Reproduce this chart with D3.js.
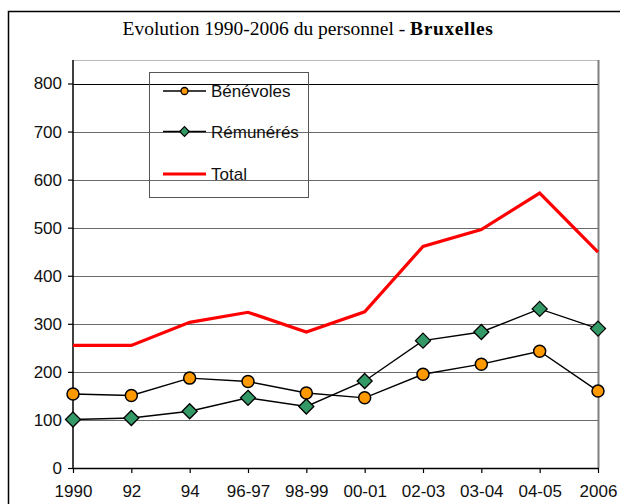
<!DOCTYPE html>
<html>
<head>
<meta charset="utf-8">
<script src="https://cdn.jsdelivr.net/npm/d3@7"></script>
<style>
  body { margin: 0; background: #fff; }
  svg { display: block; }
</style>
</head>
<body>
<div id="chart"></div>
<script>
// categories and series
var periodes = ["1990", "92", "94", "96-97", "98-99", "00-01", "02-03", "03-04", "04-05", "2006"];
var benevoles = [154, 151, 187, 180, 156, 146, 195, 216, 243, 160];
var remuneres = [101, 104, 118, 146, 128, 181, 265, 283, 331, 290];
var total = [255, 255, 303, 324, 283, 325, 461, 496, 572, 449];
var yTicks = [0, 100, 200, 300, 400, 500, 600, 700, 800];

var W = 620, H = 504;
var svg = d3.select("#chart").append("svg")
    .attr("width", W).attr("height", H);

// outer frame
svg.append("rect")
    .attr("x", 8.5).attr("y", 11.5)
    .attr("width", 620).attr("height", 520)
    .attr("fill", "none").attr("stroke", "#000").attr("stroke-width", 1.5);

// title
var title = svg.append("text")
    .attr("x", 308).attr("y", 35)
    .attr("text-anchor", "middle")
    .style("font-family", "'Liberation Serif', 'Times New Roman', serif")
    .style("font-size", "19.5px");
title.append("tspan").text("Evolution 1990-2006 du personnel - ");
title.append("tspan").style("font-weight", "bold").style("letter-spacing", "0.6px").text("Bruxelles");

var pLeft = 73, pRight = 598, pTop = 60, pBottom = 468;

var x = d3.scalePoint().domain(periodes).range([pLeft, pRight]);
var y = d3.scaleLinear().domain([0, 800]).range([pBottom, 83.5]);

// plot area frame (top + right, gray)
svg.append("line")
    .attr("x1", pLeft).attr("x2", pRight).attr("y1", pTop + 0.5).attr("y2", pTop + 0.5)
    .attr("stroke", "#bbb").attr("stroke-width", 1);
svg.append("line")
    .attr("x1", pRight + 0.5).attr("x2", pRight + 0.5).attr("y1", pTop).attr("y2", pBottom)
    .attr("stroke", "#808080").attr("stroke-width", 2);

// gridlines
svg.append("g").selectAll("line")
    .data(yTicks.filter(function(d) { return d > 0; }))
    .enter().append("line")
    .attr("x1", pLeft).attr("x2", pRight)
    .attr("y1", function(d) { return Math.round(y(d)) + 0.5; })
    .attr("y2", function(d) { return Math.round(y(d)) + 0.5; })
    .attr("stroke", function(d) { return d == 800 ? "#000" : "#6a6a6a"; })
    .attr("stroke-width", 1.2);

// axes
var font = "'Liberation Sans', Arial, sans-serif";

var yAxis = svg.append("g")
    .attr("transform", "translate(" + pLeft + ",0)")
    .call(d3.axisLeft(y).tickValues(yTicks).tickSize(5).tickPadding(6));
yAxis.select(".domain").attr("d", "M0," + pTop + "V" + pBottom).attr("stroke-width", 1.5);

var xAxis = svg.append("g")
    .attr("transform", "translate(0," + pBottom + ")")
    .call(d3.axisBottom(x).tickSize(5).tickSizeOuter(0).tickPadding(12));
xAxis.select(".domain").attr("stroke-width", 1.5);

svg.selectAll(".tick text")
    .style("font-family", font)
    .style("font-size", "17px")
    .attr("fill", "#111");
svg.selectAll(".tick line").attr("stroke-width", 1.2);

// lines
var line = d3.line()
    .x(function(d, i) { return x(periodes[i]); })
    .y(function(d) { return y(d); });

svg.append("path").datum(total)
    .attr("d", line)
    .attr("fill", "none").attr("stroke", "#ff0000").attr("stroke-width", 3.2)
    .attr("stroke-linejoin", "miter");

svg.append("path").datum(benevoles)
    .attr("d", line)
    .attr("fill", "none").attr("stroke", "#000").attr("stroke-width", 1.4);

svg.append("path").datum(remuneres)
    .attr("d", line)
    .attr("fill", "none").attr("stroke", "#000").attr("stroke-width", 1.4);

var diamond = function(s) {
    return "M0," + (-s) + "L" + s + ",0L0," + s + "L" + (-s) + ",0Z";
};

svg.append("g").selectAll("path")
    .data(remuneres).enter().append("path")
    .attr("d", diamond(7.5))
    .attr("transform", function(d, i) { return "translate(" + x(periodes[i]) + "," + y(d) + ")"; })
    .attr("fill", "#339966").attr("stroke", "#000").attr("stroke-width", 1.3);

svg.append("g").selectAll("circle")
    .data(benevoles).enter().append("circle")
    .attr("cx", function(d, i) { return x(periodes[i]); })
    .attr("cy", function(d) { return y(d); })
    .attr("r", 6)
    .attr("fill", "#ff9900").attr("stroke", "#000").attr("stroke-width", 1.5);

// legend
var legend = svg.append("g");
legend.append("rect")
    .attr("x", 149.5).attr("y", 72.5)
    .attr("width", 159).attr("height", 125)
    .attr("fill", "none").attr("stroke", "#555").attr("stroke-width", 1);

var items = [
    { name: "Bénévoles", y: 91, stroke: "#000", w: 1.4, mark: "circle" },
    { name: "Rémunérés", y: 131.5, stroke: "#000", w: 1.4, mark: "diamond" },
    { name: "Total", y: 174, stroke: "#ff0000", w: 3.2, mark: null }
];
items.forEach(function(it) {
    legend.append("line")
        .attr("x1", 163).attr("x2", 206)
        .attr("y1", it.y).attr("y2", it.y)
        .attr("stroke", it.stroke).attr("stroke-width", it.w);
    if (it.mark == "circle") {
        legend.append("circle").attr("cx", 184.5).attr("cy", it.y).attr("r", 3.5)
            .attr("fill", "#ff9900").attr("stroke", "#000").attr("stroke-width", 1.3);
    } else if (it.mark == "diamond") {
        legend.append("path").attr("d", diamond(4.8))
            .attr("transform", "translate(184.5," + it.y + ")")
            .attr("fill", "#339966").attr("stroke", "#000").attr("stroke-width", 1.2);
    }
    legend.append("text")
        .attr("x", 211).attr("y", it.y + 6)
        .style("font-family", font).style("font-size", "17px")
        .attr("fill", "#111")
        .text(it.name);
});
</script>
</body>
</html>
